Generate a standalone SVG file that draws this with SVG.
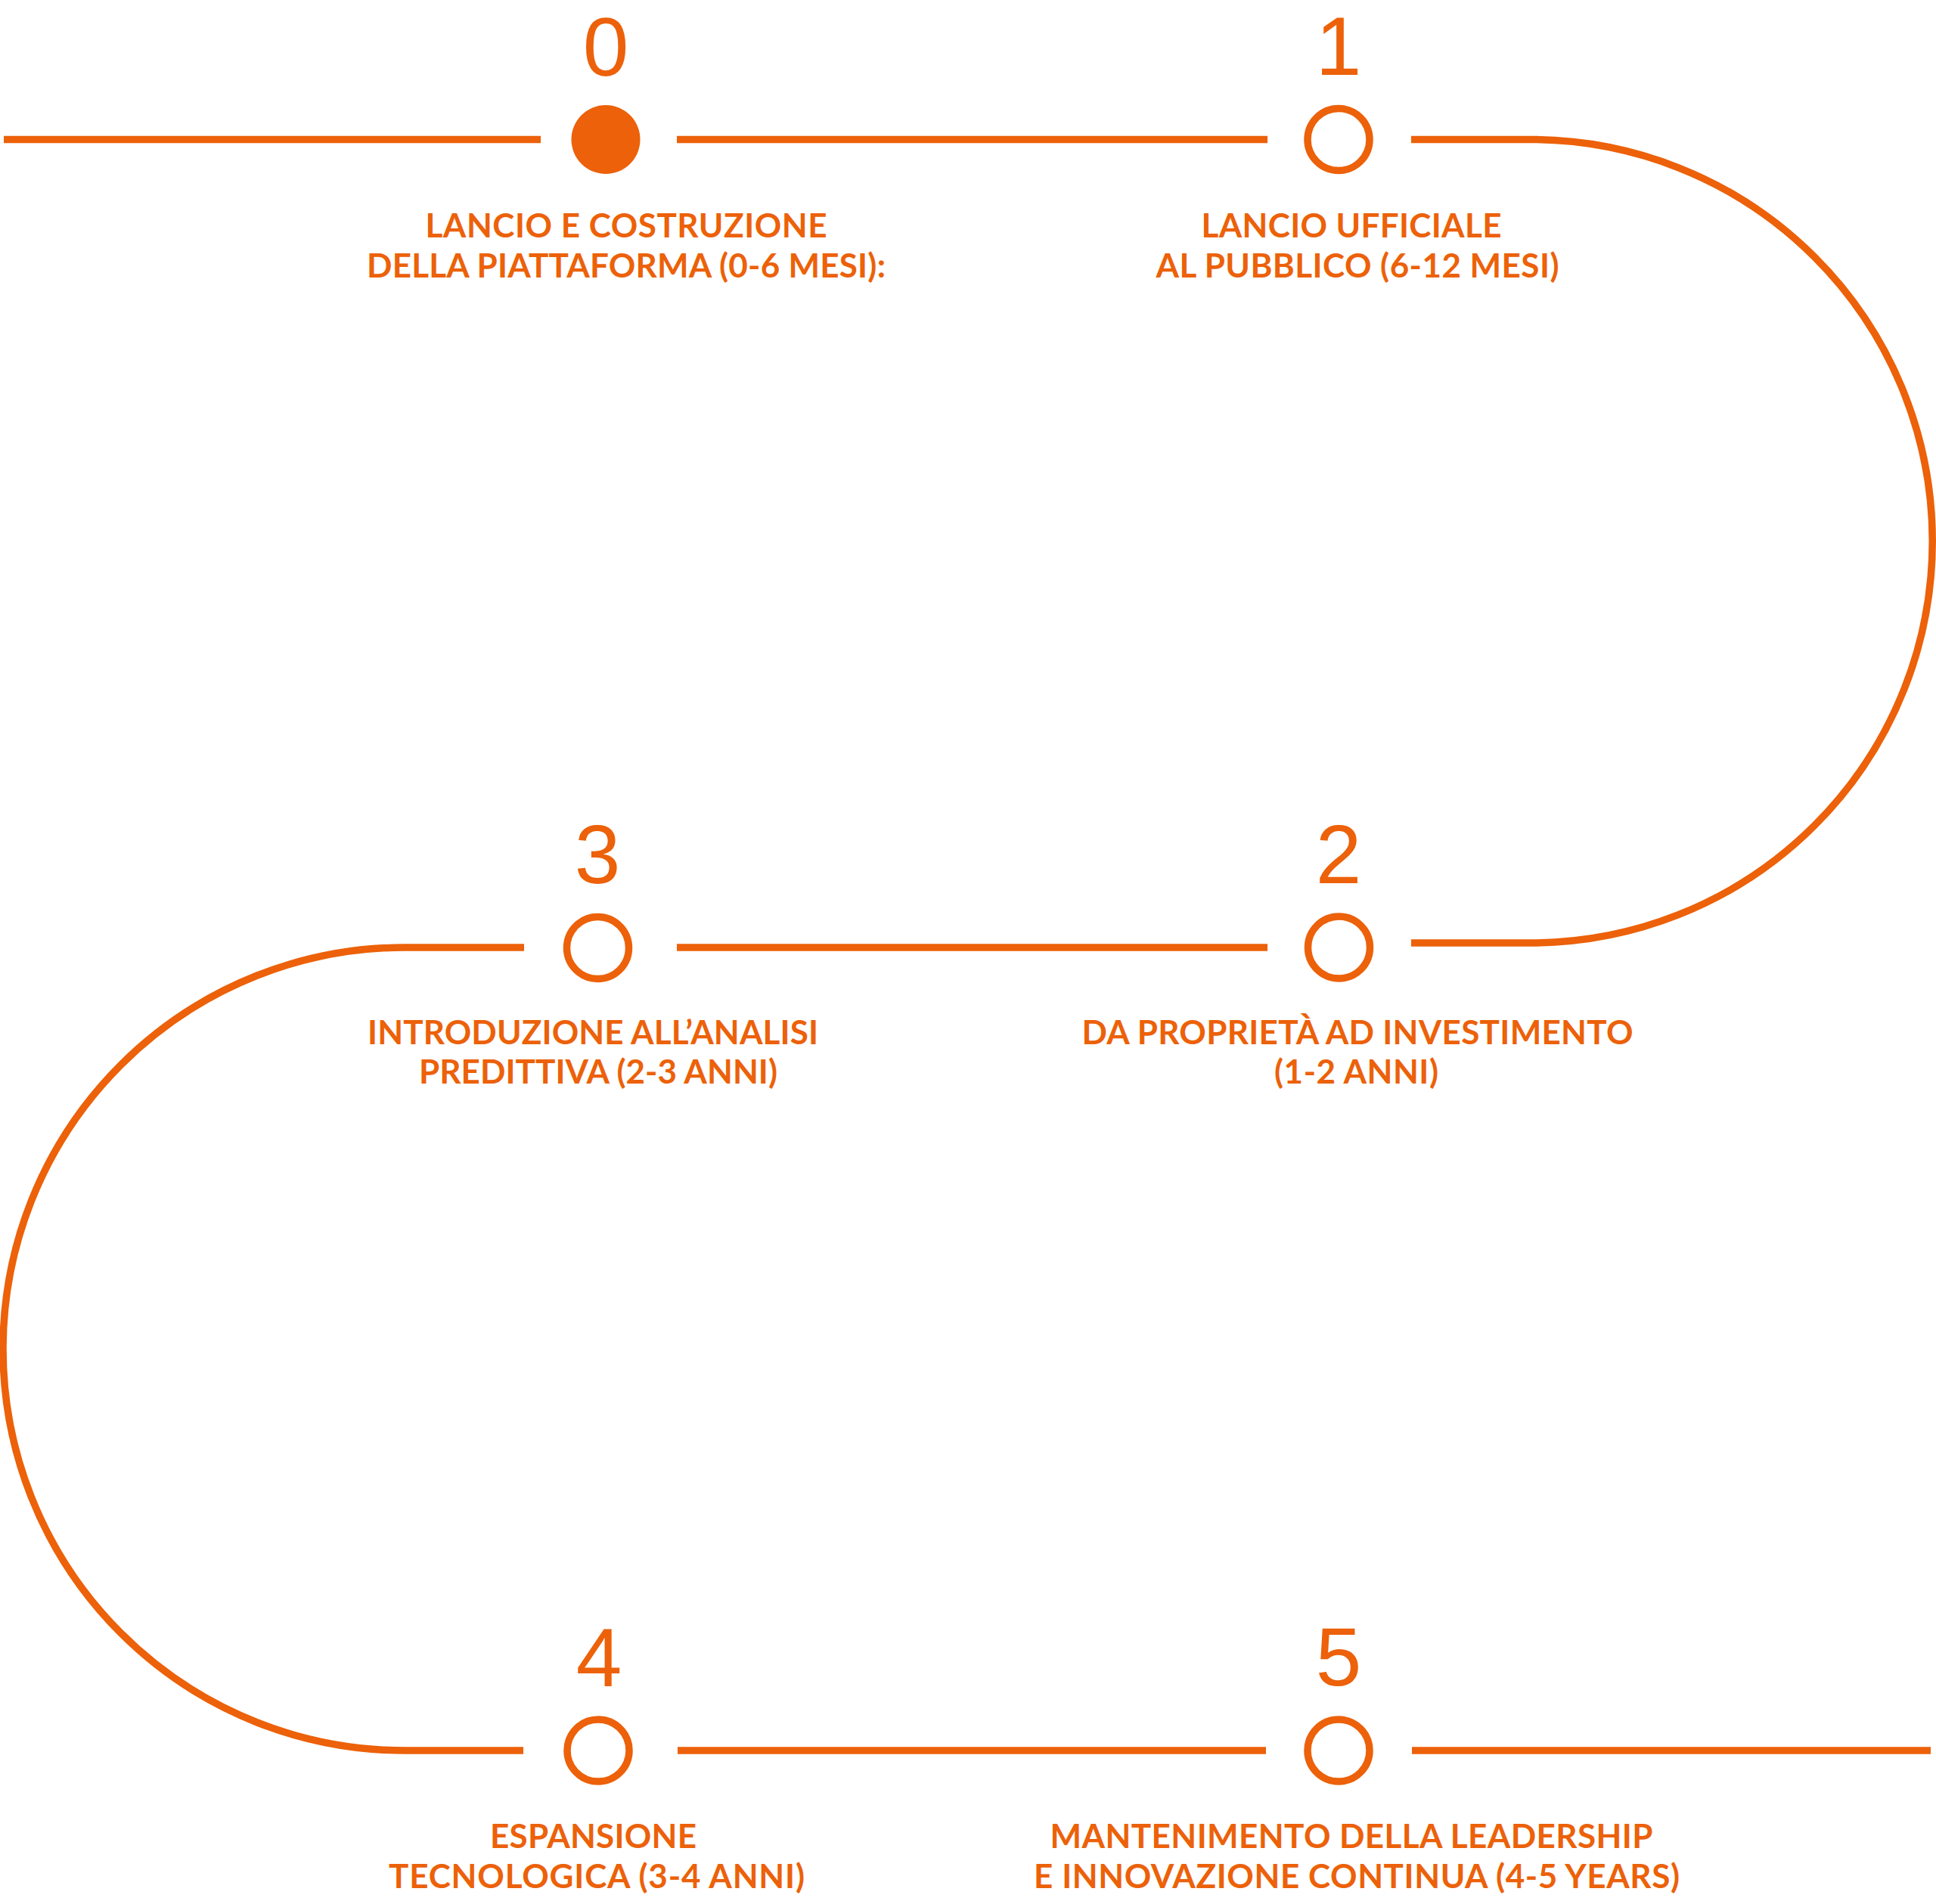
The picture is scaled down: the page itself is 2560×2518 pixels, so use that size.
<svg xmlns="http://www.w3.org/2000/svg" width="2560" height="2518" viewBox="0 0 2560 2518">
<style>
.ln{fill:none;stroke:#EC6109;stroke-width:9.5;stroke-linecap:butt}
.ring{fill:#FFFFFF;stroke:#EC6109;stroke-width:9.5}
.dot{fill:#EC6109}
.num{font-family:"Liberation Sans",Arial,sans-serif;font-weight:400;font-size:109px;fill:#EC6109;text-anchor:middle}
.lbl{font-family:Lato,"Noto Sans",sans-serif;font-weight:700;font-size:44px;fill:#EC6109;text-anchor:middle}
</style>
<rect width="2560" height="2518" fill="#FFFFFF"/>
<g id="connectors">
<path class="ln" d="M5,184.5 H715"/>
<path class="ln" d="M895,184.5 H1676"/>
<path class="ln" d="M1866,184.5 H2024 A531.25,531.25 0 0 1 2024,1247 H1866"/>
<path class="ln" d="M1676,1253 H895"/>
<path class="ln" d="M693,1253 H535 A531,531 0 0 0 535,2315 H692"/>
<path class="ln" d="M896,2315 H1674"/>
<path class="ln" d="M1867,2315 H2553"/>
</g>
<g id="node-0">
<circle class="dot" cx="801" cy="184.5" r="45.5"/>
<text class="num" x="801" y="100">0</text>
<text class="lbl" x="828" y="314" textLength="531" lengthAdjust="spacing">LANCIO E COSTRUZIONE</text>
<text class="lbl" x="828" y="366.5" textLength="686" lengthAdjust="spacing">DELLA PIATTAFORMA (0-6 MESI):</text>
</g>
<g id="node-1">
<circle class="ring" cx="1770" cy="184.5" r="41"/>
<text class="num" x="1770" y="99">1</text>
<text class="lbl" x="1787" y="314" textLength="397" lengthAdjust="spacing">LANCIO UFFICIALE</text>
<text class="lbl" x="1795" y="366.5" textLength="533" lengthAdjust="spacing">AL PUBBLICO (6-12 MESI)</text>
</g>
<g id="node-2">
<circle class="ring" cx="1770.5" cy="1253" r="41"/>
<text class="num" x="1770" y="1168">2</text>
<text class="lbl" x="1795" y="1381" textLength="729" lengthAdjust="spacing">DA PROPRIETÀ AD INVESTIMENTO</text>
<text class="lbl" x="1793.5" y="1433" textLength="217" lengthAdjust="spacing">(1-2 ANNI)</text>
</g>
<g id="node-3">
<circle class="ring" cx="790.5" cy="1253.5" r="41"/>
<text class="num" x="790" y="1168">3</text>
<text class="lbl" x="784" y="1381" textLength="596" lengthAdjust="spacing">INTRODUZIONE ALL’ANALISI</text>
<text class="lbl" x="791" y="1433" textLength="474" lengthAdjust="spacing">PREDITTIVA (2-3 ANNI)</text>
</g>
<g id="node-4">
<circle class="ring" cx="791" cy="2315" r="41"/>
<text class="num" x="792" y="2230">4</text>
<text class="lbl" x="784.5" y="2444" textLength="273" lengthAdjust="spacing">ESPANSIONE</text>
<text class="lbl" x="789" y="2496.5" textLength="550" lengthAdjust="spacing">TECNOLOGICA (3-4 ANNI)</text>
</g>
<g id="node-5">
<circle class="ring" cx="1770" cy="2315" r="41"/>
<text class="num" x="1770" y="2229">5</text>
<text class="lbl" x="1787" y="2444" textLength="797" lengthAdjust="spacing">MANTENIMENTO DELLA LEADERSHIP</text>
<text class="lbl" x="1794" y="2496.5" textLength="854" lengthAdjust="spacing">E INNOVAZIONE CONTINUA (4-5 YEARS)</text>
</g>
</svg>
